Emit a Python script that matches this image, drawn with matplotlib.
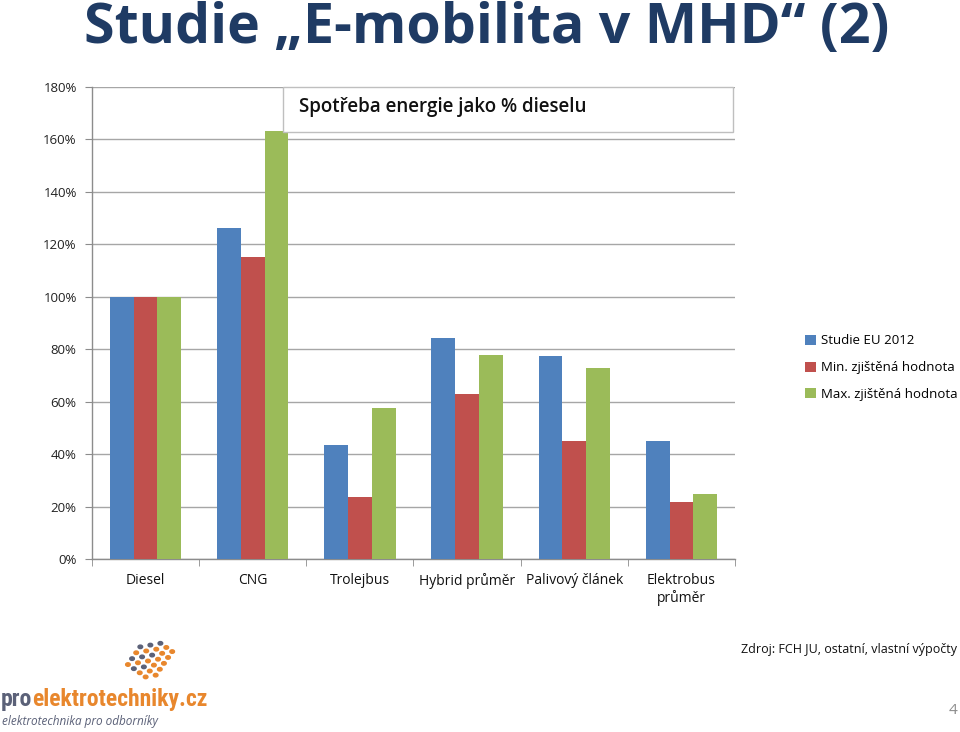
import matplotlib
matplotlib.use("Agg")
import matplotlib.pyplot as plt
import numpy as np
from matplotlib.patches import Rectangle
from matplotlib import font_manager

categories = ["Diesel", "CNG", "Trolejbus", "Hybrid průměr", "Palivový článek", "Elektrobus\nprůměr"]
series_names = ["Studie EU 2012", "Min. zjištěná hodnota", "Max. zjištěná hodnota"]
studie_eu = [100, 126.3, 43.5, 84.4, 77.5, 45.0]
min_vals = [100, 115.3, 23.7, 63.0, 45.0, 21.8]
max_vals = [100, 163.4, 57.6, 77.9, 72.9, 24.8]
y_ticks = [0, 20, 40, 60, 80, 100, 120, 140, 160, 180]
colors = ["#4F81BD", "#C0504D", "#9BBB59"]

plt.rcParams['font.family'] = ['Open Sans', 'DejaVu Sans']

# find a narrow font for the logo, if any is installed
names = {f.name for f in font_manager.fontManager.ttflist}
narrow = None
for cand in ["Liberation Sans Narrow", "DejaVu Sans Condensed", "Roboto Condensed", "Open Sans Condensed"]:
    if cand in names:
        narrow = cand
        break

fig = plt.figure(figsize=(9.6, 7.32), dpi=100)
fig.patch.set_facecolor("white")

ax = fig.add_axes([92/960, 1-559/732, (735-92)/960, (559-87)/732])
x = np.arange(len(categories))
w = 0.222
for i, (vals, c, name) in enumerate(zip([studie_eu, min_vals, max_vals], colors, series_names)):
    ax.bar(x + (i-1)*w, vals, width=w, color=c, label=name, zorder=3)

ax.set_xlim(-0.5, len(categories)-0.5)
ax.set_ylim(0, 180)
ax.set_yticks(y_ticks)
ax.set_yticklabels([f"{v}%" for v in y_ticks], fontsize=9.5, color="#222222")
ax.yaxis.grid(True, color="#A6A6A6", lw=1, zorder=0)
ax.set_xticks(x)
ax.set_xticklabels(categories, fontsize=10, color="#111111")
ax.set_xticks(np.arange(-0.5, len(categories)), minor=True)
ax.tick_params(axis='x', which='major', length=0, pad=10)
ax.tick_params(axis='x', which='minor', length=5, color="#8C8C8C", direction='out')
ax.tick_params(axis='y', length=5, color="#8C8C8C", direction='out', pad=6)
for s in ["top", "right"]:
    ax.spines[s].set_visible(False)
for s in ["left", "bottom"]:
    ax.spines[s].set_color("#8C8C8C")
    ax.spines[s].set_linewidth(1)

# chart title box
fig.patches.append(Rectangle((283/960, 1-132/732), (733-283)/960, 45/732,
                             transform=fig.transFigure, facecolor="white",
                             edgecolor="#BFBFBF", lw=1, zorder=5))
fig.text(299/960, 1-107/732, "Spotřeba energie jako % dieselu", fontsize=13.5,
         fontweight="semibold", va="center", ha="left", color="#111111", zorder=6)

# legend
handles, labels = ax.get_legend_handles_labels()
fig.legend(handles, labels, loc="upper left", bbox_to_anchor=(800/960, 1-329/732),
           frameon=False, fontsize=9.5, handlelength=0.8, handleheight=0.8,
           handletextpad=0.4, labelspacing=1.05, borderaxespad=0)

# slide title
fig.text(487/960, 1-29/732, "Studie „E-mobilita v MHD“ (2)", fontsize=40,
         fontweight="bold", color="#1F3B64", ha="center", va="center")

# source and page number
fig.text(957/960, 1-649/732, "Zdroj: FCH JU, ostatní, vlastní výpočty", fontsize=9,
         ha="right", va="center", color="#111111")
fig.text(953/960, 1-710/732, "4", fontsize=11, ha="center", va="center", color="#8C8C8C")

# logo
if narrow:
    logo_fam = [narrow, 'DejaVu Sans']
    logo_fs = 17
else:
    logo_fam = ['Open Sans', 'DejaVu Sans']
    logo_fs = 14
t1 = fig.text(1/960, 1-706/732, "pro", fontsize=logo_fs, fontweight="bold", color="#5B6178",
              ha="left", va="baseline", family=logo_fam)
fig.canvas.draw()
bb = t1.get_window_extent()
fig.text(bb.x1/960, 1-706/732, "elektrotechniky.cz", fontsize=logo_fs, fontweight="bold",
         color="#E8872D", ha="left", va="baseline", family=logo_fam)
fig.text(2/960, 1-721/732, "elektrotechnika pro odborníky", fontsize=8.5, style="italic",
         color="#5B6178", ha="left", va="center")

ang = np.deg2rad(35)
sp = 7.2
cx, cy = 148, 661
for i in range(-2, 3):
    for j in range(-3, 3):
        if abs(i + j) > 3:
            continue
        dx = cx + i*sp*np.cos(ang) - j*sp*np.sin(ang)
        dy = cy + i*sp*np.sin(ang) + j*sp*np.cos(ang)
        col = "#E8872D" if (i >= 1 or (i + j) % 2 == 0) else "#5B6178"
        fig.patches.append(plt.Circle((dx/960, 1-dy/732), 2.3/960, transform=fig.transFigure,
                                      color=col))

fig.savefig("out.png", dpi=100)
